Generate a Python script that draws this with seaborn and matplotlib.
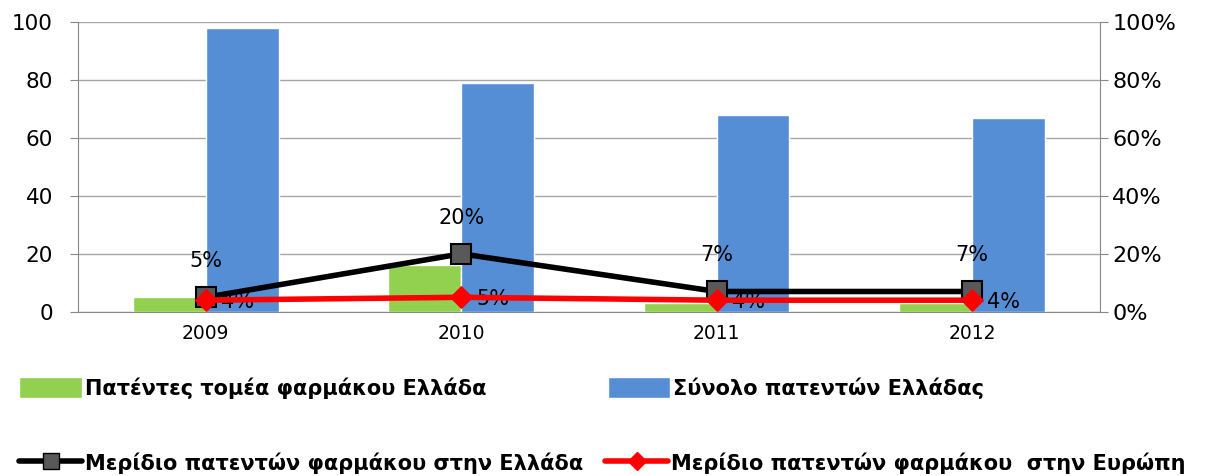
import pandas as pd
import numpy as np
import seaborn as sns
import matplotlib
matplotlib.use('Agg')
import matplotlib.pyplot as plt
from matplotlib.patches import Patch
from matplotlib.lines import Line2D

# values
years = ['2009', '2010', '2011', '2012']
pharma_patents_gr = [5, 16, 3, 3]
total_patents_gr = [98, 79, 68, 67]
share_gr = [5, 20, 7, 7]
share_eu = [4, 5, 4, 4]

bar_labels = ['Πατέντες τομέα φαρμάκου Ελλάδα', 'Σύνολο πατεντών Ελλάδας']
line_labels = ['Μερίδιο πατεντών φαρμάκου στην Ελλάδα', 'Μερίδιο πατεντών φαρμάκου  στην Ευρώπη']

green = '#92D050'
blue = '#558ED5'

sns.set_style('white')
plt.rcParams['font.family'] = ['DejaVu Sans']
plt.rcParams['text.color'] = 'black'
plt.rcParams['xtick.labelcolor'] = 'black'
plt.rcParams['ytick.labelcolor'] = 'black'

bars = pd.DataFrame({
    'year': years * 2,
    'value': pharma_patents_gr + total_patents_gr,
    'series': [bar_labels[0]] * 4 + [bar_labels[1]] * 4,
})
lines = pd.DataFrame({'year': years, 'gr': share_gr, 'eu': share_eu})

fig = plt.figure(figsize=(12.06, 4.76), dpi=100)
ax = fig.add_axes([0.0647, 0.345, 0.8473, 0.609])

sns.barplot(data=bars, x='year', y='value', hue='series',
            palette=[green, blue], width=0.57, saturation=1,
            legend=False, ax=ax)
ax.set_ylim(0, 100)
ax.set_yticks(range(0, 101, 20))
ax.set_xlim(-0.5, 3.5)
ax.set_xlabel('')
ax.set_ylabel('')
ax.grid(axis='y', color='#a6a6a6', linewidth=1)
ax.set_axisbelow(True)
for s in ['top', 'right']:
    ax.spines[s].set_visible(False)
ax.spines['left'].set_color('#888888')
ax.spines['bottom'].set_color('#888888')
ax.set_xticks([0, 1, 2, 3])
ax.set_xticks([0.5, 1.5, 2.5, 3.5], minor=True)
ax.tick_params(axis='x', which='major', length=0, labelsize=13.5, pad=9)
ax.tick_params(axis='x', which='minor', length=7, color='#888888', direction='out')
ax.tick_params(axis='y', labelsize=15.5, length=6, pad=12, color='#888888', direction='out', left=True)

ax2 = ax.twinx()
sns.lineplot(data=lines, x='year', y='gr', color='black', linewidth=4,
             marker='s', markersize=14, markerfacecolor='#595959',
             markeredgecolor='black', markeredgewidth=1.5, ax=ax2, zorder=3)
sns.lineplot(data=lines, x='year', y='eu', color='#FF0000', linewidth=4,
             marker='D', markersize=11, markerfacecolor='#FF0000',
             markeredgecolor='#FF0000', ax=ax2, zorder=4)
ax2.set_ylim(0, 100)
ax2.set_yticks(range(0, 101, 20))
ax2.set_yticklabels([f'{v}%' for v in range(0, 101, 20)])
ax2.set_xlim(-0.5, 3.5)
ax2.set_ylabel('')
ax2.tick_params(axis='y', labelsize=16, length=6, pad=3, color='#888888', direction='out', right=True)
for s in ['top', 'left', 'bottom']:
    ax2.spines[s].set_visible(False)
ax2.spines['right'].set_color('#888888')

for i, (g, e) in enumerate(zip(share_gr, share_eu)):
    ax2.annotate(f'{g}%', (i, g), xytext=(0, 26), textcoords='offset points',
                 ha='center', va='center', fontsize=15)
    ax2.annotate(f'{e}%', (i, e), xytext=(11, -1), textcoords='offset points',
                 ha='left', va='center', fontsize=15)

# legend entries, placed one by one like the reference
leg_font = {'size': 15, 'weight': 'bold'}
entries = [
    (Patch(facecolor=green), bar_labels[0], (0.016, 0.185)),
    (Patch(facecolor=blue), bar_labels[1], (0.504, 0.185)),
    (Line2D([], [], color='black', linewidth=4, marker='s', markersize=12,
            markerfacecolor='#595959', markeredgecolor='black'), line_labels[0], (0.016, 0.027)),
    (Line2D([], [], color='#FF0000', linewidth=4, marker='D', markersize=9,
            markerfacecolor='#FF0000', markeredgecolor='#FF0000'), line_labels[1], (0.502, 0.027)),
]
for h, lab, pos in entries:
    leg = fig.legend([h], [lab], loc='center left', bbox_to_anchor=pos,
                     frameon=False, prop=leg_font, handlelength=3.0, handleheight=1.2,
                     handletextpad=0.15, borderpad=0, borderaxespad=0)

fig.savefig('out.png', dpi=100)
